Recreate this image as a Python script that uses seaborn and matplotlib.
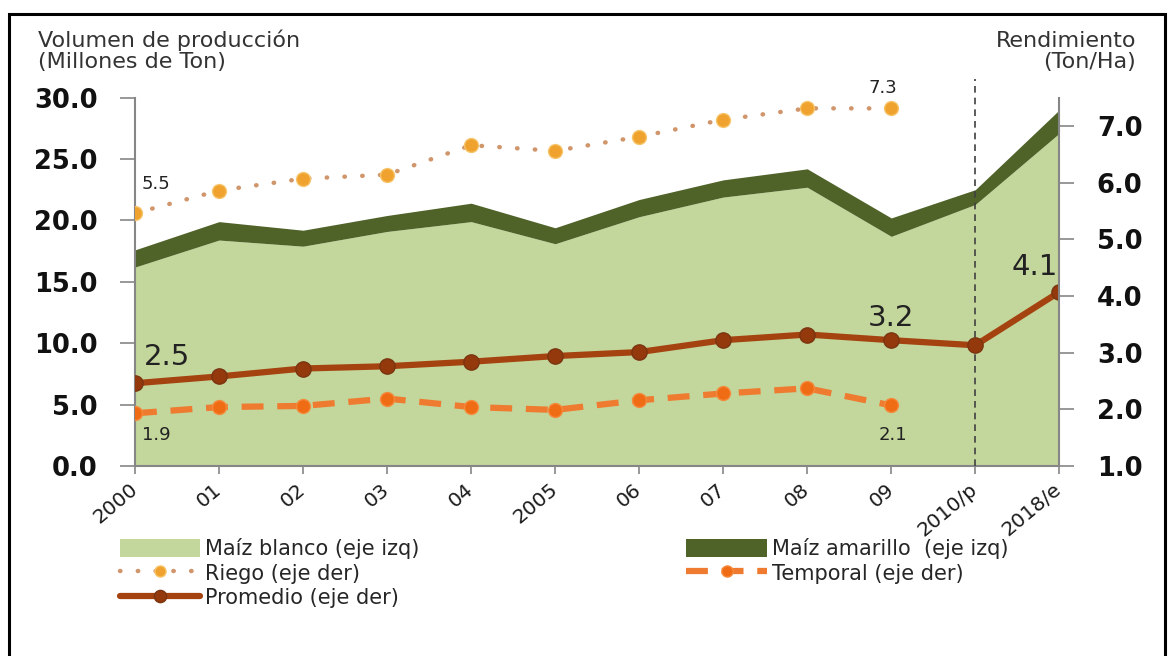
import matplotlib
matplotlib.use("Agg")
import matplotlib.pyplot as plt
import seaborn as sns
import pandas as pd
from matplotlib.patches import Rectangle

# data
categories = ["2000", "01", "02", "03", "04", "2005", "06", "07", "08", "09", "2010/p", "2018/e"]
maiz_blanco = [16.2, 18.4, 17.9, 19.1, 19.9, 18.1, 20.3, 21.9, 22.7, 18.7, 21.3, 27.1]
maiz_amarillo = [1.4, 1.5, 1.3, 1.3, 1.5, 1.3, 1.4, 1.4, 1.5, 1.5, 1.2, 1.9]
riego = [5.46, 5.86, 6.07, 6.14, 6.66, 6.56, 6.81, 7.11, 7.31, 7.31]
temporal = [1.93, 2.04, 2.06, 2.19, 2.04, 1.99, 2.16, 2.28, 2.37, 2.07]
promedio = [2.46, 2.58, 2.72, 2.76, 2.84, 2.94, 3.01, 3.22, 3.32, 3.22, 3.13, 4.07]
left_ticks = [0, 5, 10, 15, 20, 25, 30]
right_ticks = [1, 2, 3, 4, 5, 6, 7]

# which points get a value label
riego_labels = [0, 9]
temporal_labels = [0, 9]
promedio_labels = [0, 9, 11]

LIGHT_GREEN = "#C3D69B"
DARK_GREEN = "#4F6228"
RIEGO_C = "#F0A22E"
TEMPORAL_C = "#F06C14"
PROMEDIO_C = "#A4430F"
SPINE_C = "#868686"

sns.set_theme(style="white")
plt.rcParams["font.family"] = ["DejaVu Sans"]

fig = plt.figure(figsize=(11.74, 6.56), dpi=100)
ax = fig.add_axes([135 / 1174, 1 - 466 / 656, (1059.3 - 135) / 1174, (466 - 97.6) / 656])
ax2 = ax.twinx()

x_all = list(range(len(categories)))
ax.stackplot(x_all, maiz_blanco, maiz_amarillo, colors=[LIGHT_GREEN, DARK_GREEN],
             labels=["Maíz blanco (eje izq)", "Maíz amarillo  (eje izq)"], linewidth=0)
ax.axvline(categories.index("2010/p"), ymin=0, ymax=1.05, color="#404040",
           lw=1.2, linestyle=(0, (4, 3)), clip_on=False, zorder=3)

df_riego = pd.DataFrame({"x": range(len(riego)), "y": riego})
df_temp = pd.DataFrame({"x": range(len(temporal)), "y": temporal})
df_prom = pd.DataFrame({"x": x_all, "y": promedio})

sns.lineplot(data=df_riego, x="x", y="y", ax=ax2, color="#D0956A", lw=3.2,
             linestyle=(0, (0.1, 3.9)), dash_capstyle="round", marker="o", markersize=10,
             markerfacecolor=RIEGO_C, markeredgecolor="#F7C46A", markeredgewidth=1,
             label="Riego (eje der)")
sns.lineplot(data=df_temp, x="x", y="y", ax=ax2, color="#EE7B30", lw=4.5,
             linestyle=(0, (3.5, 2.2)), marker="o", markersize=10,
             markerfacecolor=TEMPORAL_C, markeredgecolor="#F58A3C", markeredgewidth=1,
             label="Temporal (eje der)")
sns.lineplot(data=df_prom, x="x", y="y", ax=ax2, color=PROMEDIO_C, lw=4.5,
             marker="o", markersize=11, markerfacecolor="#94390C",
             markeredgecolor="#7A3510", markeredgewidth=1,
             label="Promedio (eje der)")
if ax2.get_legend() is not None:
    ax2.get_legend().remove()

# axes setup
ax.set_xlim(0, len(categories) - 1)
ax.set_ylim(0, 30)
ax2.set_ylim(1, 7.5)
ax.set_yticks(left_ticks)
ax.set_yticklabels([f"{v:.1f}" for v in left_ticks], fontsize=18.5, fontweight="bold", color="#111111")
ax2.set_yticks(right_ticks)
ax2.set_yticklabels([f"{v:.1f}" for v in right_ticks], fontsize=18.5, fontweight="bold", color="#111111")
ax.set_xticks(x_all)
ax.set_xticklabels(categories, rotation=40, ha="right", va="center",
                   rotation_mode="anchor", fontsize=14.5, color="#1a1a1a")
ax.set_xlabel("")
ax.set_ylabel("")
ax2.set_xlabel("")
ax2.set_ylabel("")

ax.tick_params(axis="y", direction="out", length=11, width=1.2, color=SPINE_C, pad=16, left=True)
ax2.tick_params(axis="y", direction="out", length=11, width=1.2, color=SPINE_C, pad=16, right=True)
ax.tick_params(axis="x", direction="out", length=6, width=1.2, color=SPINE_C, pad=9, bottom=True)

for s in ["top", "right"]:
    ax.spines[s].set_visible(False)
for s in ["top", "left", "bottom"]:
    ax2.spines[s].set_visible(False)
for s in ["left", "bottom"]:
    ax.spines[s].set_color(SPINE_C)
    ax.spines[s].set_linewidth(1.5)
ax2.spines["right"].set_color(SPINE_C)
ax2.spines["right"].set_linewidth(1.5)
ax.grid(False)
ax2.grid(False)

# value labels
def put(idx, vals, dx, dy, size):
    ax2.annotate(f"{vals[idx]:.1f}", xy=(idx, vals[idx]), xytext=(dx, dy),
                 textcoords="offset pixels", ha="center", va="center",
                 fontsize=size, color="#222222")

put(riego_labels[0], riego, 21, 29, 13)
put(riego_labels[1], riego, -8, 20, 13)
put(temporal_labels[0], temporal, 21, -22, 13)
put(temporal_labels[1], temporal, 2, -30, 13)
put(promedio_labels[0], promedio, 32, 26, 21)
put(promedio_labels[1], promedio, 0, 22, 21)
put(promedio_labels[2], promedio, -25, 25, 21)

# axis headers
fig.text(38 / 1174, 1 - 47 / 656, "Volumen de producción", fontsize=16, color="#333333", va="baseline")
fig.text(38 / 1174, 1 - 68 / 656, "(Millones de Ton)", fontsize=16, color="#333333", va="baseline")
fig.text(1136 / 1174, 1 - 47 / 656, "Rendimiento", fontsize=16, color="#333333", va="baseline", ha="right")
fig.text(1136 / 1174, 1 - 68 / 656, "(Ton/Ha)", fontsize=16, color="#333333", va="baseline", ha="right")

# legend: column 1 = blanco, riego, promedio; column 2 = amarillo, temporal
h1, l1 = ax.get_legend_handles_labels()
h2, l2 = ax2.get_legend_handles_labels()
handles = [h1[0], h2[0], h2[2], h1[1], h2[1]]
labels = [l1[0], l2[0], l2[2], l1[1], l2[1]]
fig.legend(handles, labels, ncol=2, loc="upper left", bbox_to_anchor=(120 / 1174, 1 - 538 / 656),
           frameon=False, fontsize=15, handlelength=3.85, handleheight=1.0, handletextpad=0.25,
           columnspacing=12.8, labelspacing=0.2, borderpad=0, borderaxespad=0, markerscale=0.8)

# outer frame
fig.patches.append(Rectangle((9 / 1174, -0.05), (1165 - 9) / 1174, 1 - 14 / 656 + 0.05,
                             transform=fig.transFigure, fill=False, edgecolor="black", lw=2.2))

fig.savefig("out.png", dpi=100)
